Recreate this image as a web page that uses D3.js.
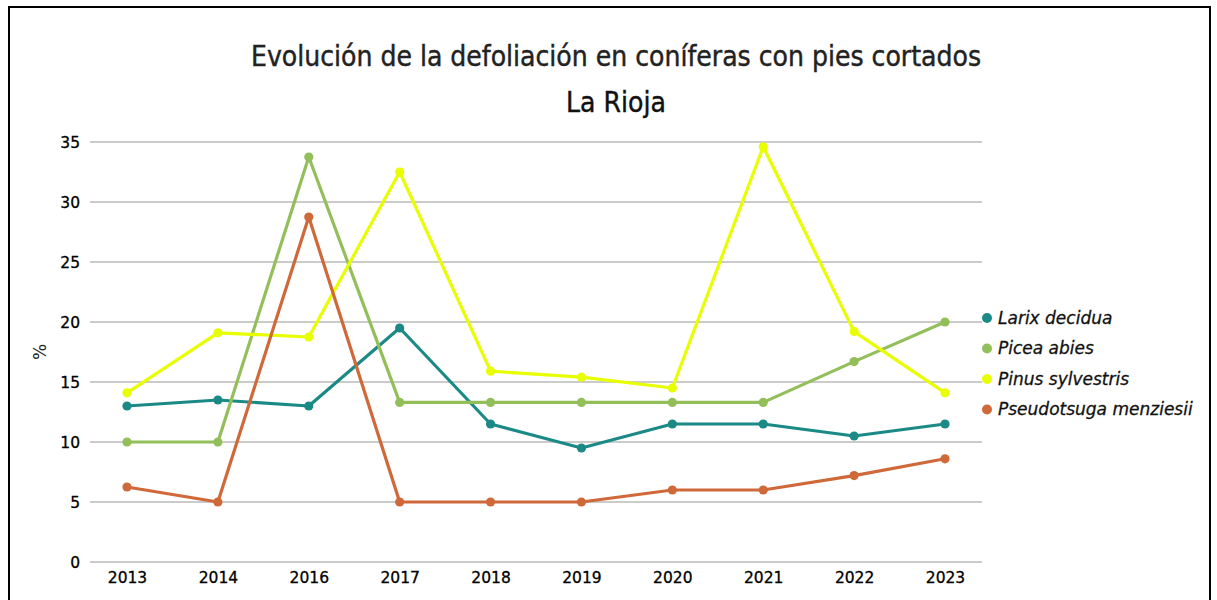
<!DOCTYPE html>
<html lang="es">
<head>
<meta charset="utf-8">
<title>Defoliación coníferas La Rioja</title>
<script src="https://cdn.jsdelivr.net/npm/d3@7"></script>
<style>
    body { margin: 0; background: #fff; }
    .grid line { stroke: #cbcbcb; stroke-width: 1.3px; shape-rendering: crispEdges; }
    .axis text { font-family: "DejaVu Sans", sans-serif; font-size: 15.5px; fill: #000; stroke: #000; stroke-width: 0.3px; }
    .axis path, .axis line { display: none; }
</style>
</head>
<body>
<script>
// data
var years = ["2013", "2014", "2016", "2017", "2018", "2019", "2020", "2021", "2022", "2023"];
var larix = [13.0, 13.5, 13.0, 19.5, 11.5, 9.5, 11.5, 11.5, 10.5, 11.5];
var picea = [10.0, 10.0, 33.75, 13.3, 13.3, 13.3, 13.3, 13.3, 16.7, 20.0];
var pinus = [14.1, 19.1, 18.75, 32.5, 15.9, 15.4, 14.5, 34.6, 19.2, 14.1];
var pseudo = [6.25, 5.0, 28.75, 5.0, 5.0, 5.0, 6.0, 6.0, 7.2, 8.6];
var seriesNames = ["Larix decidua", "Picea abies", "Pinus sylvestris", "Pseudotsuga menziesii"];
var seriesColors = ["#1b8a86", "#93bf5b", "#e8ff00", "#d0693a"];
var yTicks = [0, 5, 10, 15, 20, 25, 30, 35];

var series = [larix, picea, pinus, pseudo];

var w = 1217, h = 600;
var svg = d3.select("body").append("svg").attr("width", w).attr("height", h);

// frame
svg.append("rect")
    .attr("x", 9).attr("y", 7)
    .attr("width", 1201).attr("height", 620)
    .attr("fill", "none")
    .attr("stroke", "#000")
    .attr("stroke-width", 2);

// titles
svg.append("text")
    .attr("x", 616).attr("y", 66)
    .attr("text-anchor", "middle")
    .attr("font-family", "DejaVu Sans Condensed, DejaVu Sans, sans-serif")
    .attr("font-size", "28px")
    .attr("fill", "#222").attr("stroke", "#222").attr("stroke-width", 0.4)
    .text("Evolución de la defoliación en coníferas con pies cortados");
svg.append("text")
    .attr("x", 616).attr("y", 112)
    .attr("text-anchor", "middle")
    .attr("font-family", "DejaVu Sans Condensed, DejaVu Sans, sans-serif")
    .attr("font-size", "28px")
    .attr("fill", "#111").attr("stroke", "#111").attr("stroke-width", 0.4)
    .text("La Rioja");

// scales
var plotL = 90, plotR = 982, plotT = 142, plotB = 562;
var x = d3.scalePoint().domain(years).range([plotL, plotR]).padding(0.407);
var y = d3.scaleLinear().domain([0, 35]).range([plotB, plotT]);

// gridlines
svg.append("g").attr("class", "grid")
    .selectAll("line").data(yTicks).enter().append("line")
    .attr("x1", plotL).attr("x2", plotR)
    .attr("y1", function(d) { return y(d); })
    .attr("y2", function(d) { return y(d); });

// axes
svg.append("g").attr("class", "axis")
    .attr("transform", "translate(" + (plotL - 10) + ",0)")
    .call(d3.axisLeft(y).tickValues(yTicks).tickSize(0).tickPadding(0))
    .selectAll("text").attr("dy", "0.35em");

svg.append("g").attr("class", "axis")
    .attr("transform", "translate(0," + plotB + ")")
    .call(d3.axisBottom(x).tickSize(0).tickPadding(10));

// y label
svg.append("text")
    .attr("transform", "translate(46,352) rotate(-90)")
    .attr("text-anchor", "middle")
    .attr("font-family", "DejaVu Sans, sans-serif")
    .attr("font-size", "17px")
    .attr("fill", "#222")
    .text("%");

// lines
var line = d3.line()
    .x(function(d, i) { return x(years[i]); })
    .y(function(d) { return y(d); });

series.forEach(function(s, k) {
    var g = svg.append("g");
    g.append("path")
        .datum(s)
        .attr("d", line)
        .attr("fill", "none")
        .attr("stroke", seriesColors[k])
        .attr("stroke-width", 3.2)
        .attr("stroke-linejoin", "round");
    g.selectAll("circle").data(s).enter().append("circle")
        .attr("cx", function(d, i) { return x(years[i]); })
        .attr("cy", function(d) { return y(d); })
        .attr("r", 4.6)
        .attr("fill", seriesColors[k]);
});

// legend
var legend = svg.append("g").selectAll("g").data(seriesNames).enter().append("g")
    .attr("transform", function(d, i) { return "translate(987," + (318 + i * 30.5) + ")"; });
legend.append("circle")
    .attr("r", 5)
    .attr("fill", function(d, i) { return seriesColors[i]; });
legend.append("text")
    .attr("x", 11).attr("dy", "0.35em")
    .attr("font-family", "DejaVu Sans, sans-serif")
    .attr("font-style", "italic")
    .attr("font-size", "17px")
    .attr("fill", "#111").attr("stroke", "#111").attr("stroke-width", 0.3)
    .text(function(d) { return d; });
</script>
</body>
</html>
